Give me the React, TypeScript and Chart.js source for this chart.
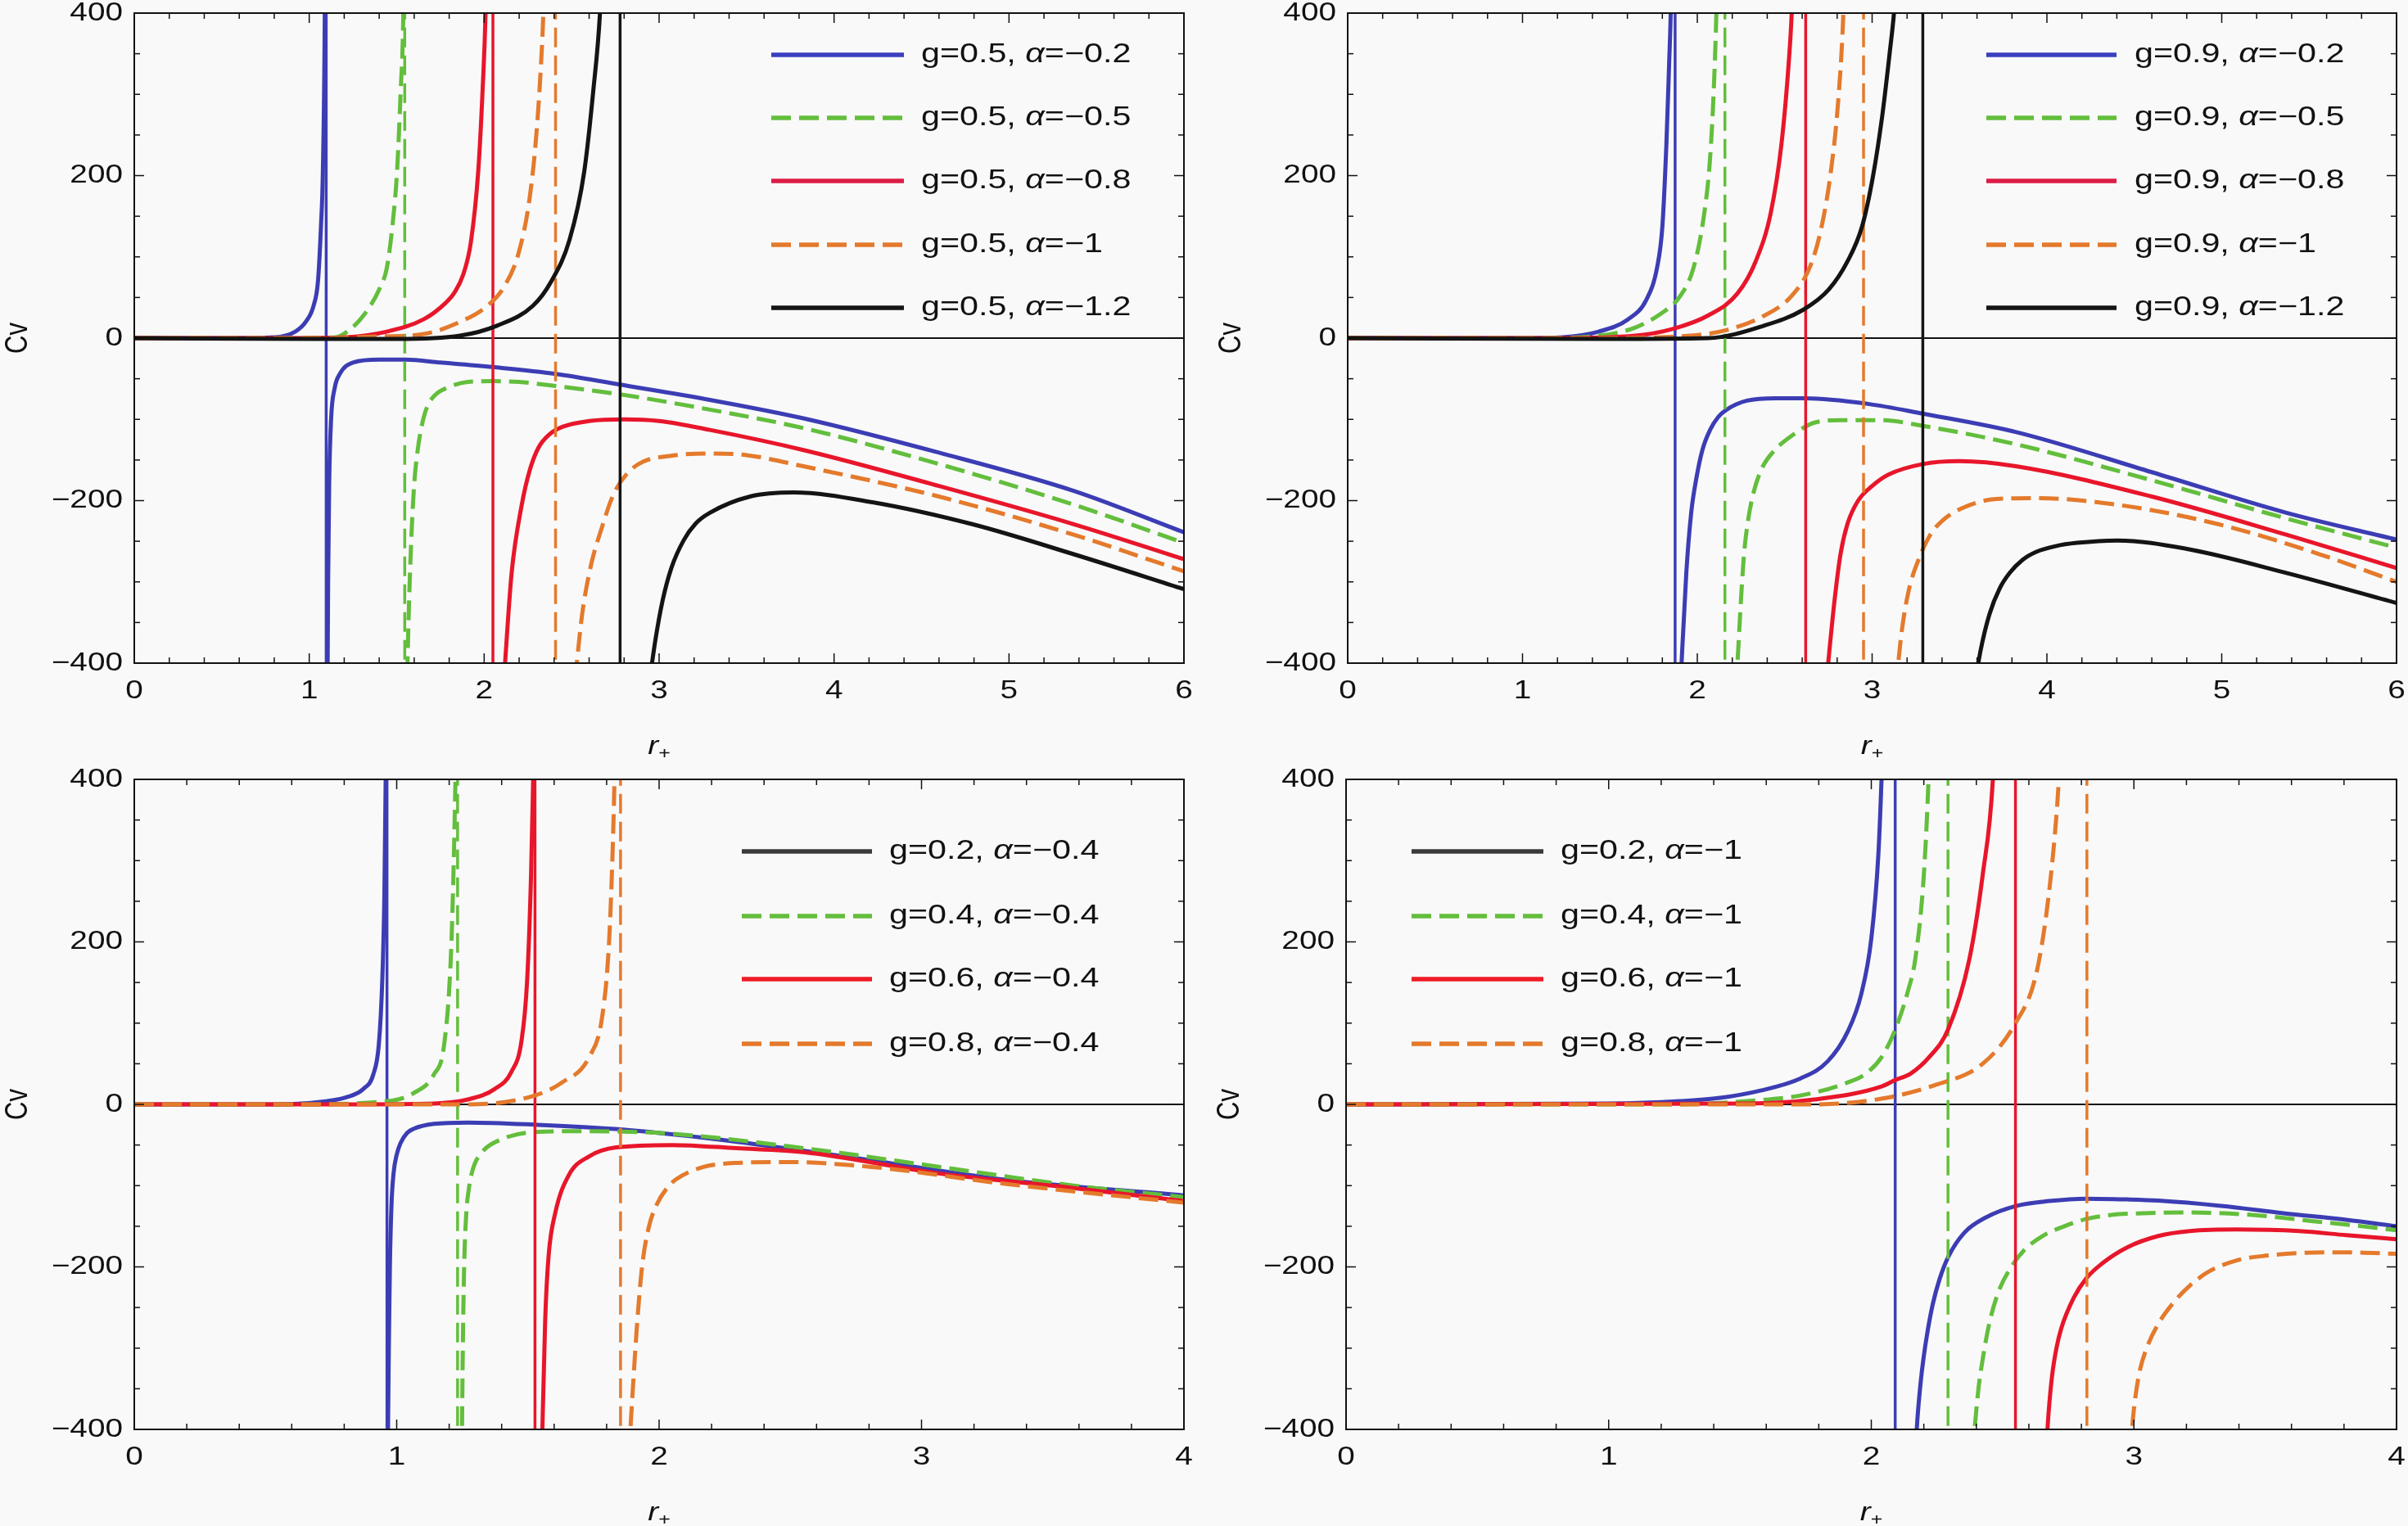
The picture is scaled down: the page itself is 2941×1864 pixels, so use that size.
import React, { useEffect, useRef } from 'react'
import { Chart, registerables } from 'chart.js'

Chart.register(...registerables)

const FONT = "'Liberation Sans', Arial, sans-serif"
const SX = 1.25 // the figure's lettering is stretched sideways

const BLUE = '#3c3db4'
const GREEN = '#63be3c'
const RED = '#e8162b'
const ORANGE = '#e47a2c'
const BLACK = '#141414'
const DASH = [24, 10]

// ---- panel (a): g = 0.5 ----
const aG = ['0.5', '0.5', '0.5', '0.5', '0.5']
const aAlpha = ['−0.2', '−0.5', '−0.8', '−1', '−1.2']
const aPoles = [1.097, 1.546, 2.05, 2.408, 2.777]
const aBlueUp = [[0, 0], [0.5, 0], [0.8, 1], [0.92, 8], [0.98, 20], [1.025, 40], [1.05, 70], [1.067, 137], [1.078, 205], [1.089, 400], [1.093, 600]]
const aBlueLow = [[1.104, -450], [1.108, -300], [1.114, -180], [1.125, -100], [1.145, -62], [1.175, -44], [1.25, -30], [1.4, -26.5], [1.55, -26.5], [1.75, -30], [2.05, -35.6], [2.41, -44], [2.77, -57], [3.29, -76], [3.83, -99], [4.6, -141], [5.37, -188], [6, -239]]
const aGreenUp = [[0, 0], [0.8, 0], [1.15, 1], [1.235, 11], [1.318, 30], [1.4, 60], [1.444, 87], [1.475, 137], [1.502, 205], [1.523, 305], [1.538, 400], [1.542, 480]]
const aGreenLow = [[1.556, -450], [1.57, -330], [1.585, -240], [1.6, -180], [1.62, -138], [1.645, -106], [1.675, -84], [1.72, -70], [1.79, -61], [1.907, -54], [2.05, -53], [2.2, -54], [2.41, -59], [2.77, -69], [3.29, -88], [3.83, -111], [4.6, -155], [5.37, -205], [6, -252]]
const aRedUp = [[0, 0], [0.9, 0], [1.2, 1], [1.444, 8], [1.653, 23], [1.778, 43], [1.83, 56], [1.88, 78], [1.924, 118], [1.966, 205], [1.991, 305], [2.008, 400], [2.015, 480]]
const aRedLow = [[2.113, -420], [2.157, -289], [2.215, -205], [2.26, -163], [2.31, -135], [2.37, -119], [2.45, -109], [2.6, -102], [2.8, -100], [3.0, -102], [3.29, -113], [3.83, -138], [4.6, -182], [5.37, -229], [6, -272]]
const aOrangeUp = [[0, 0], [1.0, 0], [1.4, 2], [1.653, 5], [1.862, 20], [2.008, 38], [2.113, 63], [2.196, 104], [2.259, 171], [2.3, 255], [2.332, 366], [2.342, 420]]
const aOrangeLow = [[2.52, -420], [2.56, -340], [2.61, -280], [2.67, -235], [2.74, -192], [2.82, -166], [2.91, -152], [3.06, -145], [3.27, -142], [3.5, -144], [3.83, -158], [4.6, -195], [5.37, -242], [6, -287]]
const aBlackUp = [[0, 0], [1.0, -1], [1.5, -1], [1.862, 3], [2.07, 15], [2.28, 40], [2.384, 70], [2.488, 121], [2.572, 205], [2.624, 305], [2.662, 400], [2.672, 450]]
const aBlackLow = [[2.94, -430], [2.98, -370], [3.02, -323], [3.07, -283], [3.14, -249], [3.21, -228], [3.29, -215], [3.52, -195], [3.77, -190], [4.22, -202], [4.79, -229], [5.37, -266], [6, -309]]

// ---- panel (b): g = 0.9 ----
const bG = ['0.9', '0.9', '0.9', '0.9', '0.9']
const bAlpha = ['−0.2', '−0.5', '−0.8', '−1', '−1.2']
const bPoles = [1.873, 2.158, 2.62, 2.951, 3.29]
const bBlueUp = [[0, 0], [1.0, 0], [1.227, 1], [1.436, 8], [1.603, 23], [1.708, 47], [1.77, 87], [1.8, 137], [1.823, 238], [1.839, 339], [1.848, 400], [1.852, 450]]
const bBlueLow = [[1.903, -430], [1.937, -289], [1.965, -215], [1.995, -172], [2.03, -137], [2.073, -113], [2.12, -97], [2.168, -88], [2.284, -77], [2.45, -74], [2.62, -74], [2.977, -81], [3.29, -93], [3.83, -116], [4.6, -165], [5.37, -215], [6, -248]]
const bGreenUp = [[0, 0], [1.1, 0], [1.436, 3], [1.645, 13], [1.791, 30], [1.896, 50], [1.979, 87], [2.04, 154], [2.073, 221], [2.094, 305], [2.109, 400], [2.114, 450]]
const bGreenLow = [[2.222, -430], [2.265, -272], [2.29, -225], [2.322, -190], [2.37, -160], [2.438, -139], [2.554, -118], [2.67, -104], [2.82, -101], [3.05, -101], [3.29, -108], [3.83, -131], [4.6, -175], [5.37, -222], [6, -258]]
const bRedUp = [[0, 0], [1.2, 0], [1.645, 3], [1.854, 11], [2.063, 28], [2.23, 55], [2.335, 95], [2.42, 154], [2.481, 238], [2.523, 339], [2.54, 400], [2.546, 440]]
const bRedLow = [[2.735, -430], [2.785, -323], [2.82, -265], [2.86, -228], [2.92, -200], [3.0, -182], [3.093, -168], [3.29, -155], [3.5, -151.5], [3.83, -158], [4.6, -195], [5.37, -242], [6, -283]]
const bOrangeUp = [[0, 0], [1.4, 0], [1.958, 3], [2.168, 10], [2.377, 27], [2.544, 53], [2.649, 90], [2.711, 137], [2.764, 205], [2.805, 289], [2.833, 386], [2.84, 430]]
const bOrangeLow = [[3.135, -430], [3.17, -360], [3.21, -310], [3.267, -272], [3.33, -243], [3.4, -225], [3.517, -209], [3.71, -198], [3.95, -197], [4.4, -205], [4.98, -229], [5.56, -266], [6, -300]]
const bBlackUp = [[0, 0], [1.5, -1], [2.063, 0], [2.377, 15], [2.607, 35], [2.753, 60], [2.858, 94], [2.942, 137], [3.004, 198], [3.057, 272], [3.1, 350], [3.125, 400], [3.135, 430]]
const bBlackLow = [[3.585, -430], [3.62, -385], [3.671, -340], [3.73, -308], [3.787, -289], [3.86, -273], [3.94, -263], [4.05, -256], [4.172, -252], [4.403, -249], [4.79, -259], [5.37, -289], [6, -326]]

// ---- panel (c): alpha = -0.4 ----
const cG = ['0.2', '0.4', '0.6', '0.8']
const cAlpha = ['−0.4', '−0.4', '−0.4', '−0.4']
const cPoles = [0.963, 1.232, 1.527, 1.853]
const cBlueUp = [[0, 0], [0.5, 0], [0.68, 2], [0.81, 9], [0.873, 19], [0.911, 37], [0.932, 74], [0.945, 152], [0.953, 256], [0.958, 400], [0.96, 450]]
const cBlueLow = [[0.966, -430], [0.97, -300], [0.974, -200], [0.98, -125], [0.988, -85], [1.0, -62], [1.014, -48], [1.04, -35], [1.065, -30], [1.142, -24], [1.27, -22.4], [1.527, -25], [1.861, -31], [2.297, -46], [2.81, -69], [3.324, -93], [4, -112]]
const cGreenUp = [[0, 0], [0.6, 0], [0.963, 4], [1.065, 14], [1.142, 37], [1.181, 74], [1.206, 178], [1.216, 280], [1.224, 400], [1.227, 450]]
const cGreenLow = [[1.248, -430], [1.252, -300], [1.257, -200], [1.265, -135], [1.275, -104], [1.29, -80], [1.322, -60], [1.399, -43], [1.527, -34], [1.72, -33], [2.04, -36], [2.554, -54], [3.07, -77], [3.58, -100], [4, -114]]
const cRedUp = [[0, 0], [0.8, 0], [1.142, 1], [1.271, 6], [1.374, 19], [1.437, 40], [1.476, 79], [1.497, 152], [1.512, 282], [1.52, 400], [1.523, 450]]
const cRedLow = [[1.553, -430], [1.566, -264], [1.579, -186], [1.604, -134], [1.656, -87], [1.733, -64], [1.836, -53], [2.05, -50], [2.297, -54], [2.554, -59], [3.067, -85], [3.58, -103], [4, -119]]
const cOrangeUp = [[0, 0], [1.0, 0], [1.271, 0], [1.527, 11], [1.63, 27], [1.733, 58], [1.784, 110], [1.81, 204], [1.825, 334], [1.83, 400], [1.832, 430]]
const cOrangeLow = [[1.885, -430], [1.9, -350], [1.915, -275], [1.935, -200], [1.96, -152], [1.99, -124], [2.03, -103], [2.066, -92], [2.169, -77], [2.297, -72], [2.49, -71], [2.81, -77], [3.324, -98], [4, -121]]

// ---- panel (d): alpha = -1 ----
const dG = ['0.2', '0.4', '0.6', '0.8']
const dAlpha = ['−1', '−1', '−1', '−1']
const dPoles = [2.091, 2.292, 2.549, 2.821]
const dBlueUp = [[0, 0], [1.0, 1], [1.27, 4], [1.424, 8], [1.578, 17], [1.731, 32], [1.834, 53], [1.911, 90], [1.962, 136], [2.0, 204], [2.027, 308], [2.039, 400], [2.043, 440]]
const dBlueLow = [[2.168, -430], [2.175, -390], [2.187, -345], [2.199, -312], [2.215, -278], [2.234, -246], [2.26, -215], [2.294, -187], [2.354, -158], [2.437, -139], [2.551, -125], [2.676, -119], [2.819, -116], [2.974, -117], [3.093, -118.5], [3.332, -125], [3.57, -134], [3.809, -142], [4, -150]]
const dGreenUp = [[0, 0], [1.27, 0], [1.526, 4], [1.731, 11], [1.911, 27], [1.98, 38], [2.039, 58], [2.091, 92], [2.14, 140], [2.168, 180], [2.2, 282], [2.218, 400], [2.222, 440]]
const dGreenLow = [[2.385, -430], [2.408, -350], [2.426, -310], [2.449, -270], [2.485, -230], [2.533, -200], [2.58, -180], [2.652, -162], [2.735, -150], [2.819, -141], [2.914, -136], [3.033, -134], [3.213, -133], [3.45, -136], [3.69, -144], [3.868, -150], [4, -155]]
const dRedUp = [[0, 0], [1.526, 1], [1.783, 6], [2.039, 22], [2.091, 30], [2.15, 38], [2.22, 58], [2.292, 92], [2.373, 178], [2.424, 282], [2.463, 400], [2.468, 440]]
const dRedLow = [[2.665, -430], [2.675, -380], [2.688, -335], [2.705, -300], [2.723, -276], [2.771, -238], [2.819, -214], [2.878, -196], [2.974, -176], [3.093, -162], [3.213, -156], [3.39, -154], [3.63, -156], [3.809, -161], [4, -166]]
const dOrangeUp = [[0, 0], [1.783, 0], [2.039, 7], [2.245, 24], [2.424, 50], [2.549, 100], [2.629, 162], [2.675, 256], [2.706, 360], [2.714, 400], [2.718, 430]]
const dOrangeLow = [[2.985, -430], [3.0, -375], [3.021, -330], [3.051, -298], [3.093, -270], [3.153, -243], [3.213, -223], [3.284, -206], [3.391, -192], [3.51, -186], [3.63, -183], [3.809, -182], [4, -184]]

interface Series { color: string; dash: number[]; up: number[][]; pole: number; low: number[][] }
interface Entry { color: string; dash: number[]; g: string; alpha: string }

const aSeries: Series[] = [
    { color: BLUE, dash: [], up: aBlueUp, pole: aPoles[0], low: aBlueLow },
    { color: GREEN, dash: DASH, up: aGreenUp, pole: aPoles[1], low: aGreenLow },
    { color: RED, dash: [], up: aRedUp, pole: aPoles[2], low: aRedLow },
    { color: ORANGE, dash: DASH, up: aOrangeUp, pole: aPoles[3], low: aOrangeLow },
    { color: BLACK, dash: [], up: aBlackUp, pole: aPoles[4], low: aBlackLow },
]
const bSeries: Series[] = [
    { color: BLUE, dash: [], up: bBlueUp, pole: bPoles[0], low: bBlueLow },
    { color: GREEN, dash: DASH, up: bGreenUp, pole: bPoles[1], low: bGreenLow },
    { color: RED, dash: [], up: bRedUp, pole: bPoles[2], low: bRedLow },
    { color: ORANGE, dash: DASH, up: bOrangeUp, pole: bPoles[3], low: bOrangeLow },
    { color: BLACK, dash: [], up: bBlackUp, pole: bPoles[4], low: bBlackLow },
]
const cSeries: Series[] = [
    { color: BLUE, dash: [], up: cBlueUp, pole: cPoles[0], low: cBlueLow },
    { color: GREEN, dash: DASH, up: cGreenUp, pole: cPoles[1], low: cGreenLow },
    { color: RED, dash: [], up: cRedUp, pole: cPoles[2], low: cRedLow },
    { color: ORANGE, dash: DASH, up: cOrangeUp, pole: cPoles[3], low: cOrangeLow },
]
const dSeries: Series[] = [
    { color: BLUE, dash: [], up: dBlueUp, pole: dPoles[0], low: dBlueLow },
    { color: GREEN, dash: DASH, up: dGreenUp, pole: dPoles[1], low: dGreenLow },
    { color: RED, dash: [], up: dRedUp, pole: dPoles[2], low: dRedLow },
    { color: ORANGE, dash: DASH, up: dOrangeUp, pole: dPoles[3], low: dOrangeLow },
]

// legend swatches (the lower panels show a dark first swatch, as in the figure)
const topSwatches = [
    { color: '#3b3fc0', dash: [] },
    { color: GREEN, dash: DASH },
    { color: '#dc1c46', dash: [] },
    { color: ORANGE, dash: DASH },
    { color: BLACK, dash: [] },
]
const bottomSwatches = [
    { color: '#3a3a3a', dash: [] },
    { color: GREEN, dash: DASH },
    { color: '#ee1c26', dash: [] },
    { color: ORANGE, dash: DASH },
]
const makeEntries = (g: string[], alpha: string[], sw: { color: string; dash: number[] }[]): Entry[] =>
    g.map((gv, i) => ({ ...sw[i], g: gv, alpha: alpha[i] }))

interface PanelDef {
    key: string
    x: number
    y: number
    width: number
    height: number
    area: { l: number; r: number; t: number; b: number }
    xMax: number
    series: Series[]
    entries: Entry[]
    legend: { x1: number; x2: number; tx: number; rows: number[] }
}

const panels: PanelDef[] = [
    {
        key: 'a', x: 0, y: 0, width: 1470, height: 932, area: { l: 164, r: 1446, t: 16, b: 810 }, xMax: 6,
        series: aSeries, entries: makeEntries(aG, aAlpha, topSwatches),
        legend: { x1: 942, x2: 1104, tx: 1125, rows: [67, 144, 221, 299, 376] },
    },
    {
        key: 'b', x: 1470, y: 0, width: 1471, height: 932, area: { l: 176, r: 1457, t: 16, b: 810 }, xMax: 6,
        series: bSeries, entries: makeEntries(bG, bAlpha, topSwatches),
        legend: { x1: 956, x2: 1115, tx: 1137, rows: [67, 144, 221, 299, 376] },
    },
    {
        key: 'c', x: 0, y: 932, width: 1470, height: 932, area: { l: 164, r: 1446, t: 20, b: 814 }, xMax: 4,
        series: cSeries, entries: makeEntries(cG, cAlpha, bottomSwatches),
        legend: { x1: 906, x2: 1065, tx: 1086, rows: [108, 187, 264, 343] },
    },
    {
        key: 'd', x: 1470, y: 932, width: 1471, height: 932, area: { l: 174, r: 1457, t: 20, b: 814 }, xMax: 4,
        series: dSeries, entries: makeEntries(dG, dAlpha, bottomSwatches),
        legend: { x1: 254, x2: 415, tx: 436, rows: [108, 187, 264, 343] },
    },
]

const toXY = (pts: number[][]) => pts.map(([x, y]) => ({ x, y }))
const fmt = (v: any) => (Number(v) < 0 ? '−' + Math.abs(Number(v)) : String(v))

// text drawn with the same sideways stretch as the figure
const stretchText = (c: CanvasRenderingContext2D, text: string, x: number, y: number, font: string, align: string) => {
    c.save()
    c.font = font
    const w = c.measureText(text).width * SX
    const left = align === 'center' ? x - w / 2 : align === 'right' ? x - w : x
    c.translate(left, y)
    c.scale(SX, 1)
    c.textAlign = 'left'
    c.textBaseline = 'middle'
    c.fillText(text, 0, 0)
    c.restore()
    return w
}

const Panel: React.FunctionComponent<{ p: PanelDef }> = ({ p }) => {
    const canvasRef = useRef<HTMLCanvasElement>(null)

    useEffect(() => {
        const ctx = canvasRef.current!.getContext('2d') as CanvasRenderingContext2D
        const n = p.series.length
        const datasets: any[] = []
        p.series.forEach((s, i) => {
            const common = { borderColor: s.color, borderDash: s.dash, pointRadius: 0, order: n - i, fill: false, borderJoinStyle: 'round' }
            datasets.push({ ...common, data: toXY(s.up), borderWidth: 5, cubicInterpolationMode: 'monotone' })
            datasets.push({ ...common, data: [{ x: s.pole, y: -430 }, { x: s.pole, y: 430 }], borderWidth: 3.5, tension: 0 })
            datasets.push({ ...common, data: toXY(s.low), borderWidth: 5, cubicInterpolationMode: 'monotone' })
        })

        const line = (c: CanvasRenderingContext2D, x1: number, y1: number, x2: number, y2: number) => {
            c.beginPath(); c.moveTo(x1, y1); c.lineTo(x2, y2); c.stroke()
        }

        const framePlugin = {
            id: 'frame',
            beforeDatasetsDraw(chart: any) {
                const c = chart.ctx
                const a = chart.chartArea
                const y0 = chart.scales.y.getPixelForValue(0)
                c.save()
                c.strokeStyle = '#111'
                c.lineWidth = 2
                line(c, a.left, y0, a.right, y0)
                c.restore()
            },
            afterDraw(chart: any) {
                const c = chart.ctx as CanvasRenderingContext2D
                const a = chart.chartArea
                const xs = chart.scales.x
                const ys = chart.scales.y
                c.save()
                c.strokeStyle = '#111'
                c.lineWidth = 1.5
                for (let k = 0; k <= p.xMax * 5; k++) {
                    const px = xs.getPixelForValue(k / 5)
                    const len = k % 5 === 0 ? 12 : 7
                    line(c, px, a.bottom, px, a.bottom - len)
                    line(c, px, a.top, px, a.top + len)
                }
                for (let v = -400; v <= 400; v += 50) {
                    const py = ys.getPixelForValue(v)
                    const len = v % 200 === 0 ? 12 : 7
                    line(c, a.left, py, a.left + len, py)
                    line(c, a.right, py, a.right - len, py)
                }
                c.lineWidth = 2
                c.strokeRect(a.left, a.top, a.right - a.left, a.bottom - a.top)

                // tick labels from the scales' own ticks
                c.fillStyle = '#111'
                const tf = `31px ${FONT}`
                xs.ticks.forEach((t: any) => stretchText(c, fmt(t.value), xs.getPixelForValue(t.value), a.bottom + 34, tf, 'center'))
                ys.ticks.forEach((t: any) => stretchText(c, fmt(t.value), a.left - 14, ys.getPixelForValue(t.value), tf, 'right'))

                // legend
                const L = p.legend
                p.entries.forEach((e, i) => {
                    const y = L.rows[i]
                    c.strokeStyle = e.color
                    c.lineWidth = 5.5
                    c.setLineDash(e.dash)
                    line(c, L.x1, y, L.x2, y)
                    c.setLineDash([])
                    c.fillStyle = '#111'
                    let x = L.tx
                    x += stretchText(c, `g=${e.g}, `, x, y, `33px ${FONT}`, 'left')
                    x += stretchText(c, 'α', x, y, `italic 33px ${FONT}`, 'left')
                    stretchText(c, `=${e.alpha}`, x, y, `33px ${FONT}`, 'left')
                })

                // axis titles
                c.fillStyle = '#111'
                c.save()
                c.font = `31px ${FONT}`
                c.textAlign = 'center'
                c.textBaseline = 'middle'
                c.translate(a.left - 142, (a.top + a.bottom) / 2)
                c.scale(SX, 1)
                c.rotate(-Math.PI / 2)
                c.fillText('Cv', 0, 0)
                c.restore()

                c.font = `italic 31px ${FONT}`
                const wr = c.measureText('r').width * SX
                c.font = `20px ${FONT}`
                const wp = c.measureText('+').width * SX
                const sx = (a.left + a.right) / 2 - (wr + wp) / 2
                const ty = a.bottom + 102
                stretchText(c, 'r', sx, ty, `italic 31px ${FONT}`, 'left')
                stretchText(c, '+', sx + wr, ty + 9, `20px ${FONT}`, 'left')
                c.restore()
            },
        }

        const chart = new Chart(ctx, {
            type: 'line',
            data: { datasets },
            options: {
                animation: false,
                responsive: false,
                devicePixelRatio: 1,
                events: [],
                layout: { padding: { left: 0, top: p.area.t, right: p.width - p.area.r, bottom: 0 } },
                plugins: { legend: { display: false }, tooltip: { enabled: false } },
                elements: { point: { radius: 0 } },
                scales: {
                    x: {
                        type: 'linear',
                        min: 0,
                        max: p.xMax,
                        afterFit: (s: any) => { s.height = p.height - p.area.b },
                        grid: { display: false, drawTicks: false },
                        border: { display: false },
                        ticks: { stepSize: 1, autoSkip: false, display: false },
                    },
                    y: {
                        type: 'linear',
                        min: -400,
                        max: 400,
                        afterFit: (s: any) => { s.width = p.area.l },
                        grid: { display: false, drawTicks: false },
                        border: { display: false },
                        ticks: { stepSize: 200, autoSkip: false, display: false },
                    },
                },
            } as any,
            plugins: [framePlugin],
        })

        return () => {
            chart.destroy()
        }
    }, [p])

    return (
        <canvas
            ref={canvasRef}
            width={p.width}
            height={p.height}
            style={{ width: p.width, height: p.height, display: 'block' }}
        ></canvas>
    )
}

const App: React.FunctionComponent = () => {
    return (
        <div style={{ position: 'absolute', left: 0, top: 0, width: 2941, height: 1864, background: '#f9f9f9' }}>
            {panels.map((p) => (
                <div key={p.key} style={{ position: 'absolute', left: p.x, top: p.y }}>
                    <Panel p={p} />
                </div>
            ))}
        </div>
    )
}

export default App
